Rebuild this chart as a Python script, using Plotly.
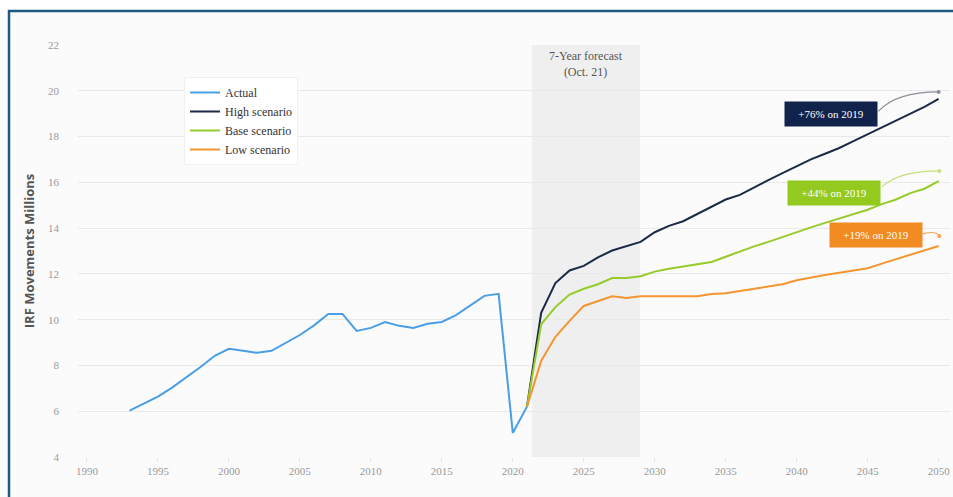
import plotly.graph_objects as go

# ---------------- data ----------------
actual_years = list(range(1993, 2022))
actual_vals = [6.03, 6.32, 6.64, 7.03, 7.46, 7.93, 8.42, 8.73, 8.64, 8.55, 8.64, 8.99, 9.33,
               9.75, 10.25, 10.25, 9.51, 9.64, 9.9, 9.73, 9.64, 9.82, 9.9, 10.2, 10.64,
               11.04, 11.13, 5.05, 6.2]

fc_years = list(range(2021, 2051))
high_vals = [6.2, 10.3, 11.6, 12.15, 12.35, 12.72, 13.02, 13.2, 13.4, 13.82, 14.1, 14.3, 14.62,
             14.95, 15.25, 15.45, 15.78, 16.1, 16.4, 16.7, 17.0, 17.25, 17.5, 17.8, 18.1,
             18.4, 18.7, 19.0, 19.3, 19.65]
base_vals = [6.2, 9.8, 10.55, 11.1, 11.35, 11.55, 11.82, 11.82, 11.9, 12.1, 12.22, 12.32, 12.42,
             12.52, 12.75, 12.98, 13.2, 13.4, 13.62, 13.83, 14.03, 14.23, 14.42, 14.6, 14.8,
             15.05, 15.25, 15.53, 15.72, 16.05]
low_vals = [6.2, 8.2, 9.25, 9.95, 10.6, 10.8, 11.02, 10.95, 11.02, 11.02, 11.02, 11.02, 11.02,
            11.12, 11.15, 11.25, 11.35, 11.45, 11.55, 11.72, 11.85, 11.95, 12.05, 12.15, 12.25,
            12.45, 12.65, 12.85, 13.05, 13.22]

series_names = ["Actual", "High scenario", "Base scenario", "Low scenario"]
series_colors = ["#4a9ee6", "#1b2a47", "#95cb2a", "#f4952f"]

forecast_span = [2021.35, 2028.95]
forecast_label = "7-Year forecast<br>(Oct. 21)"

callout_texts = ["+76% on 2019", "+44% on 2019", "+19% on 2019"]
callout_colors = ["#11234a", "#94c91f", "#f28b22"]
callout_pos = [(2042.45, 18.99), (2042.6, 15.55), (2045.6, 13.7)]
callout_paths = [
    ("M 2045.75,19.1 Q 2047.0,19.95 2050.0,19.95", "#8a9098", (2050.0, 19.95)),
    ("M 2046.0,15.8 Q 2047.2,16.5 2050.05,16.5", "#c4e07c", (2050.05, 16.5)),
    ("M 2048.9,13.75 Q 2049.8,13.9 2050.05,13.66", "#f2a45a", (2050.05, 13.66)),
]

x_ticks = list(range(1990, 2051, 5))
y_ticks = list(range(4, 23, 2))

# ---------------- figure ----------------
fig = go.Figure()

fig.add_trace(go.Scatter(x=actual_years, y=actual_vals, mode="lines", name=series_names[0],
                         line=dict(color=series_colors[0], width=2)))
for name, col, vals in zip(series_names[1:], series_colors[1:], [high_vals, base_vals, low_vals]):
    fig.add_trace(go.Scatter(x=fc_years, y=vals, mode="lines", name=name,
                             line=dict(color=col, width=2)))

# forecast shading
fig.add_shape(type="rect", xref="x", yref="y", x0=forecast_span[0], x1=forecast_span[1],
              y0=4, y1=22, fillcolor="#efefef", line_width=0, layer="below")
fig.add_annotation(x=sum(forecast_span) / 2, y=22, xref="x", yref="y", text=forecast_label,
                   showarrow=False, yanchor="top", yshift=-2,
                   font=dict(family="Liberation Serif", size=12, color="#555555"))

# callouts
for (path, col, end), txt, bcol, (cx, cy) in zip(callout_paths, callout_texts, callout_colors, callout_pos):
    fig.add_shape(type="path", path=path, xref="x", yref="y", line=dict(color=col, width=1.2))
    fig.add_trace(go.Scatter(x=[end[0]], y=[end[1]], mode="markers", showlegend=False,
                             hoverinfo="skip", marker=dict(color=col, size=4)))
    fig.add_annotation(x=cx, y=cy, xref="x", yref="y", text=txt, showarrow=False,
                       bgcolor=bcol, borderpad=5, width=82, height=14,
                       font=dict(family="Liberation Serif", size=11, color="white"))

# outer border frame (pixel-derived paper coords)
L, R, T, B = 78, 3, 45, 40
W, H = 953, 497
pw, ph = W - L - R, H - T - B
def px(xp):
    return (xp - L) / pw
def py(yp):
    return (H - B - yp) / ph

fig.add_shape(type="rect", xref="paper", yref="paper", x0=px(-5), x1=px(8), y0=py(-5), y1=py(505),
              fillcolor="white", line_width=0, layer="above")
fig.add_shape(type="rect", xref="paper", yref="paper", x0=px(-5), x1=px(960), y0=py(-5), y1=py(10),
              fillcolor="white", line_width=0, layer="above")
fig.add_shape(type="rect", xref="paper", yref="paper", x0=px(9), x1=px(970), y0=py(11), y1=py(520),
              line=dict(color="#1c5a80", width=2.5), fillcolor="rgba(0,0,0,0)", layer="above")

fig.update_layout(
    width=W, height=H,
    margin=dict(l=L, r=R, t=T, b=B),
    paper_bgcolor="#fbfbfb", plot_bgcolor="#fbfbfb",
    showlegend=True,
    legend=dict(x=px(184), y=py(77), xanchor="left", yanchor="top",
                bgcolor="white", bordercolor="#f0f0f0", borderwidth=1,
                font=dict(family="Liberation Serif", size=12, color="#333333"),
                itemwidth=30, tracegroupgap=0),
    xaxis=dict(range=[1989.37, 2050.8], tickvals=x_ticks, showgrid=False, zeroline=False,
               showline=False, ticks="outside", ticklen=4, tickcolor="#e4e4e4",
               tickfont=dict(family="Liberation Serif", size=11, color="#999999")),
    yaxis=dict(range=[4, 22], tickvals=y_ticks, showgrid=True, gridcolor="#e9e9e9", gridwidth=1,
               zeroline=False, showline=False, ticks="", ticklabelstandoff=18,
               tickfont=dict(family="Liberation Serif", size=11, color="#999999"),
               title=dict(text="IRF Movements Millions", standoff=10,
                          font=dict(family="Open Sans", size=13, color="#555555", weight="bold"))),
)

fig.write_html("out.html")
